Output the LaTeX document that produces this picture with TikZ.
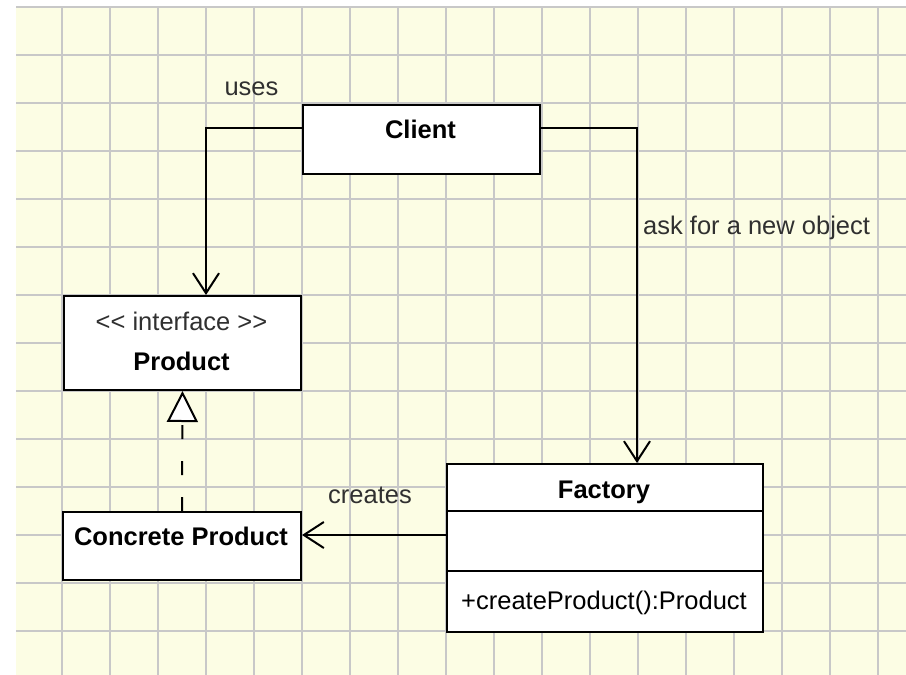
\documentclass[tikz,border=0pt]{standalone}
\usepackage{fontspec}
\setmainfont{Liberation Sans}
\usetikzlibrary{arrows.meta}
\definecolor{paper}{HTML}{FCFDE4}
\definecolor{gridc}{HTML}{C8C8C8}
\definecolor{labelc}{HTML}{303030}
\begin{document}
\begin{tikzpicture}[x=1pt,y=-1pt,
  font=\fontsize{25.5}{30}\selectfont,
  box/.style={draw=black,line width=2pt,fill=white,inner sep=0pt,anchor=north west},
  txt/.style={inner sep=0pt,anchor=base},
  bold/.style={txt,font=\fontsize{25.5}{30}\selectfont\bfseries},
  lbl/.style={inner sep=0pt,anchor=base,text=labelc},
  conn/.style={draw=black,line width=2pt},
  openarrow/.style={conn,-{Straight Barb[length=20pt,width=26pt]}},
  realize/.style={conn,dash pattern=on 14pt off 22pt,-{Triangle[open,length=31pt,width=31pt,fill=white]}}
]
\useasboundingbox (0,0) rectangle (906,675);
\fill[white] (0,0) rectangle (906,675);
\fill[paper] (16,7) rectangle (906,675);
\foreach \x in {62,110,...,878} \draw[gridc,line width=2pt] (\x,7) -- (\x,675);
\foreach \y in {7,55,...,631} \draw[gridc,line width=2pt] (16,\y) -- (906,\y);

% boxes
\node[box,minimum width=237pt,minimum height=69pt] (client) at (302,104) {};
\node[bold] (clientT) at (420.5,138) {Client};

\node[box,minimum width=237pt,minimum height=94pt] (product) at (63,295) {};
\node[txt,text=labelc] (productS) at (181.5,330) {<{}< interface >{}>};
\node[bold] (productT) at (181.5,370) {Product};

\node[box,minimum width=238pt,minimum height=68pt] (concrete) at (62,511) {};
\node[bold] (concreteT) at (181,545) {Concrete Product};

\node[box,minimum width=316pt,minimum height=168pt] (factory) at (446,463) {};
\draw[conn] ([yshift=-48pt]factory.north west) -- ([yshift=-48pt]factory.north east);
\draw[conn] ([yshift=-108pt]factory.north west) -- ([yshift=-108pt]factory.north east);
\node[bold] (factoryT) at (604,498) {Factory};
\node[txt] (factoryM) at (604,609) {+createProduct():Product};

% connectors
\coordinate (usesBend) at (206,128);
\coordinate (askBend) at (637,128);
\coordinate (createsY) at (446,535);
\draw[openarrow] (client.west |- usesBend) -- (usesBend) -- (usesBend |- product.north);
\draw[openarrow] (client.east |- askBend) -- (askBend) -- (askBend |- factory.north);
\draw[openarrow] (factory.west |- createsY) -- (concrete.east |- createsY);
\draw[realize] (concrete.north) -- (product.south);

% labels
\node[lbl] (usesL) at (251.5,95) {uses};
\node[lbl,anchor=base west] (askL) at (643,234) {ask for a new object};
\node[lbl] (createsL) at (370,503) {creates};
\end{tikzpicture}
\end{document}
